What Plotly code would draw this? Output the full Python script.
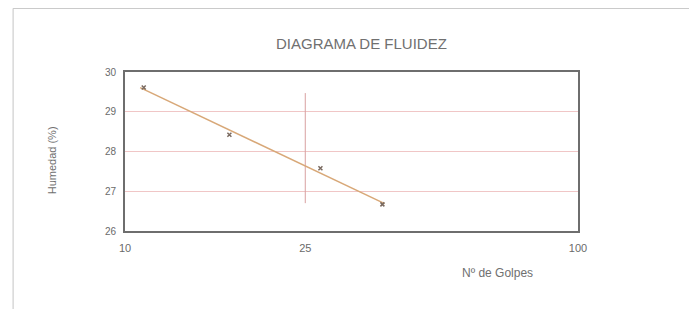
import numpy as np
import plotly.graph_objects as go

# Data
golpes = [11, 17, 27, 37]               # Nº de Golpes
humedad = [29.61, 28.42, 27.58, 26.67]  # Humedad (%)
x_ticks = [10, 25, 100]
x_tick_labels = ["10", "25", "100"]
y_ticks = [26, 27, 28, 29, 30]
ref_golpes = 25
ref_line_y = [26.70, 29.47]

# Trend line (least squares on log10 of blows)
lx = np.log10(golpes)
m, b = np.polyfit(lx, humedad, 1)
tx = [10 ** (lx[0] - 0.008), 10 ** (lx[-1] + 0.005)]
ty = [m * np.log10(v) + b for v in tx]

fig = go.Figure()
fig.add_trace(go.Scatter(x=[ref_golpes, ref_golpes], y=ref_line_y, mode="lines",
                         line=dict(color="#d9a0a0", width=1), hoverinfo="skip", showlegend=False))
fig.add_trace(go.Scatter(x=tx, y=ty, mode="lines",
                         line=dict(color="#d8a878", width=1.5), showlegend=False))
fig.add_trace(go.Scatter(x=golpes, y=humedad, mode="markers",
                         marker=dict(symbol="x-thin", size=4, color="#7a6a60",
                                     line=dict(width=1.5, color="#7a6a60")),
                         showlegend=False))

fam = "Liberation Sans, Arial"
fig.update_layout(
    width=697, height=309,
    margin=dict(l=117, r=127, t=64, b=86),
    paper_bgcolor="white", plot_bgcolor="white",
    xaxis=dict(type="log", range=[1, 2], tickvals=x_ticks, ticktext=x_tick_labels,
               showgrid=False, showline=True, linecolor="#6e6e6e", linewidth=2,
               mirror=True, ticks="", ticklabelstandoff=6,
               tickfont=dict(family=fam, size=11, color="#6a6a6a"), zeroline=False),
    yaxis=dict(range=[26, 30], tickvals=y_ticks, showgrid=True, gridcolor="#f0c6c6",
               gridwidth=1, showline=True, linecolor="#6e6e6e", linewidth=2,
               mirror=True, ticks="", ticklabelstandoff=5,
               tickfont=dict(family=fam, size=10, color="#6a6a6a"), zeroline=False),
    annotations=[
        dict(text="DIAGRAMA DE FLUIDEZ", x=0.523, y=1.245, xref="paper", yref="paper",
             showarrow=False, font=dict(family=fam, size=15, color="#707070")),
        dict(text="Humedad (%)", x=-0.178, y=0.447, xref="paper", yref="paper", textangle=-90,
             showarrow=False, font=dict(family=fam, size=11, color="#707070")),
        dict(text="Nº de Golpes", x=0.905, y=-0.32, xref="paper", yref="paper",
             showarrow=False, font=dict(family=fam, size=12, color="#707070")),
    ],
    shapes=[
        dict(type="line", xref="paper", yref="paper", x0=-0.247, x1=1.3, y0=1.40, y1=1.40,
             line=dict(color="#c4c4c4", width=1)),
        dict(type="line", xref="paper", yref="paper", x0=-0.247, x1=-0.247, y0=1.40, y1=-0.6,
             line=dict(color="#c4c4c4", width=1)),
    ],
)
fig.write_html("out.html")
